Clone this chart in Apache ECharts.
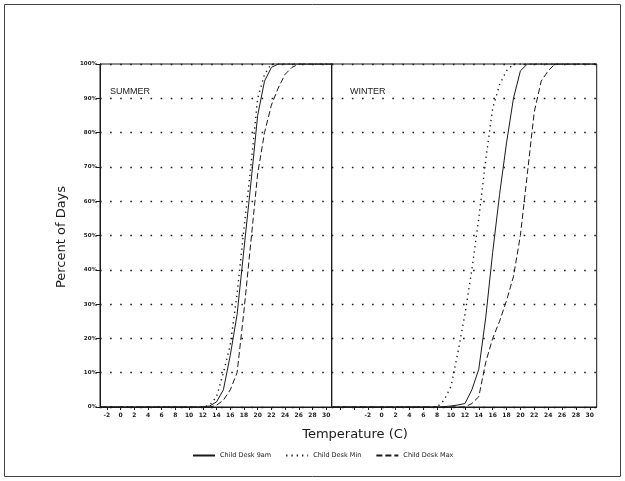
<!DOCTYPE html>
<html>
<head>
<meta charset="utf-8">
<script src="https://cdn.jsdelivr.net/npm/echarts@6/dist/echarts.min.js"></script>
<style>html,body{margin:0;padding:0;background:#fff}#c{width:625px;height:481px}</style>
</head>
<body>
<div id="c"></div>
<script>
// ---- data ----
var summerTemps = [-3, 12, 13, 14, 15, 16, 17, 18, 19, 20, 21, 22, 23, 24, 25, 26, 31];
var summer9am   = [0, 0, 0.3, 1.5, 5, 15, 27, 46, 65, 85, 95, 99, 100, 100, 100, 100, 100];
var summerMin   = [0, 0, 0.5, 3, 10, 18, 33, 52, 70, 90, 97, 100, 100, 100, 100, 100, 100];
var summerMax   = [0, 0, 0, 0.5, 2, 5, 10, 28, 48, 68, 80, 88, 93, 97, 99, 100, 100];

var winterTemps = [-7, 8, 9, 10, 11, 12, 13, 14, 15, 16, 17, 18, 19, 20, 21, 22, 23, 24, 25, 31];
var winter9am   = [0, 0, 0.1, 0.3, 0.6, 1, 5, 11, 26, 45, 62, 77, 90, 98, 100, 100, 100, 100, 100, 100];
var winterMin   = [0, 0, 2, 6, 16, 27, 40, 55, 72, 87, 94, 98, 100, 100, 100, 100, 100, 100, 100, 100];
var winterMax   = [0, 0, 0, 0, 0, 0, 1, 3, 13, 20, 25, 31, 38, 50, 68, 86, 95, 98, 100, 100];

var seriesNames = ['Child Desk 9am', 'Child Desk Min', 'Child Desk Max'];
var xTickLabels = [-2, 0, 2, 4, 6, 8, 10, 12, 14, 16, 18, 20, 22, 24, 26, 28, 30];
var winterExtraTicks = [-6, -4];
var panelLabels = ['SUMMER', 'WINTER'];

function pairs(xs, ys) { return xs.map(function (x, i) { return [x, ys[i]]; }); }

var INK = '#1a1a1a';
var FONT = 'DejaVu Sans';
var styles = [
  { type: 'solid', width: 1 },
  { type: [1.3, 4], width: 1.4 },
  { type: [6, 3], width: 1 }
];

function xAxis(gridIndex, min, max, ticks) {
  return {
    type: 'value', gridIndex: gridIndex, min: min, max: max,
    axisLine: { show: true, onZero: false, lineStyle: { color: INK, width: 1 } },
    axisTick: { show: true, length: 3, customValues: ticks, lineStyle: { color: INK } },
    axisLabel: { show: true, customValues: xTickLabels, fontSize: 6, color: INK, fontFamily: FONT, fontWeight: 'bold', margin: 5 },
    splitLine: { show: false }
  };
}
function yAxis(gridIndex, labels) {
  return {
    type: 'value', gridIndex: gridIndex, min: 0, max: 100, interval: 10,
    axisLine: { show: true, onZero: false, lineStyle: { color: INK, width: 1 } },
    axisTick: { show: labels, length: 4, inside: false, lineStyle: { color: INK } },
    axisLabel: { show: labels, formatter: '{value}%', fontSize: 5.5, color: INK, fontFamily: FONT, fontWeight: 'bold', margin: 3 },
    splitLine: { show: true, lineStyle: { color: INK, type: [1.6, 8.5], width: 1.3 } }
  };
}

var summerSets = [summer9am, summerMin, summerMax];
var winterSets = [winter9am, winterMin, winterMax];
var series = [];
seriesNames.forEach(function (n, i) {
  series.push({ name: n, type: 'line', xAxisIndex: 0, yAxisIndex: 0, symbol: 'none', silent: true,
    data: pairs(summerTemps, summerSets[i]), lineStyle: Object.assign({ color: INK }, styles[i]), itemStyle: { color: INK } });
  series.push({ name: n, type: 'line', xAxisIndex: 1, yAxisIndex: 1, symbol: 'none', silent: true,
    data: pairs(winterTemps, winterSets[i]), lineStyle: Object.assign({ color: INK }, styles[i]), itemStyle: { color: INK } });
});

var chart = echarts.init(document.getElementById('c'), null, { renderer: 'canvas' });
chart.setOption({
  animation: false,
  backgroundColor: '#fff',
  grid: [
    { left: 100, top: 64, width: 231.7, height: 343, show: true, borderColor: INK, borderWidth: 1, backgroundColor: 'transparent' },
    { left: 331.7, top: 64, width: 265, height: 343, show: true, borderColor: INK, borderWidth: 1, backgroundColor: 'transparent' }
  ],
  xAxis: [
    xAxis(0, -3, 30.8, xTickLabels),
    xAxis(1, -7.2, 31, winterExtraTicks.concat(xTickLabels))
  ],
  yAxis: [yAxis(0, true), yAxis(1, false)],
  legend: {
    data: seriesNames, left: 192, top: 452, itemWidth: 22, itemHeight: 8, itemGap: 14, padding: 0,
    itemStyle: { opacity: 0 },
    textStyle: { fontSize: 6.5, color: INK, fontFamily: FONT },
    selectedMode: false
  },
  graphic: [
    { type: 'rect', shape: { x: 4.5, y: 4.5, width: 616, height: 472 }, style: { fill: 'none', stroke: '#444', lineWidth: 1 } },
    { type: 'text', left: 110, top: 87, style: { text: panelLabels[0], fontSize: 9, fontFamily: 'Liberation Sans', fill: INK } },
    { type: 'text', left: 350, top: 87, style: { text: panelLabels[1], fontSize: 9, fontFamily: 'Liberation Sans', fill: INK } },
    { type: 'text', x: 355, y: 435, style: { text: 'Temperature (C)', fontSize: 13, fontFamily: FONT, fill: INK, align: 'center', verticalAlign: 'middle' } },
    { type: 'text', x: 62, y: 237, rotation: Math.PI / 2, style: { text: 'Percent of Days', fontSize: 13, fontFamily: FONT, fill: INK, align: 'center', verticalAlign: 'middle' } }
  ],
  series: series
});
</script>
</body>
</html>
